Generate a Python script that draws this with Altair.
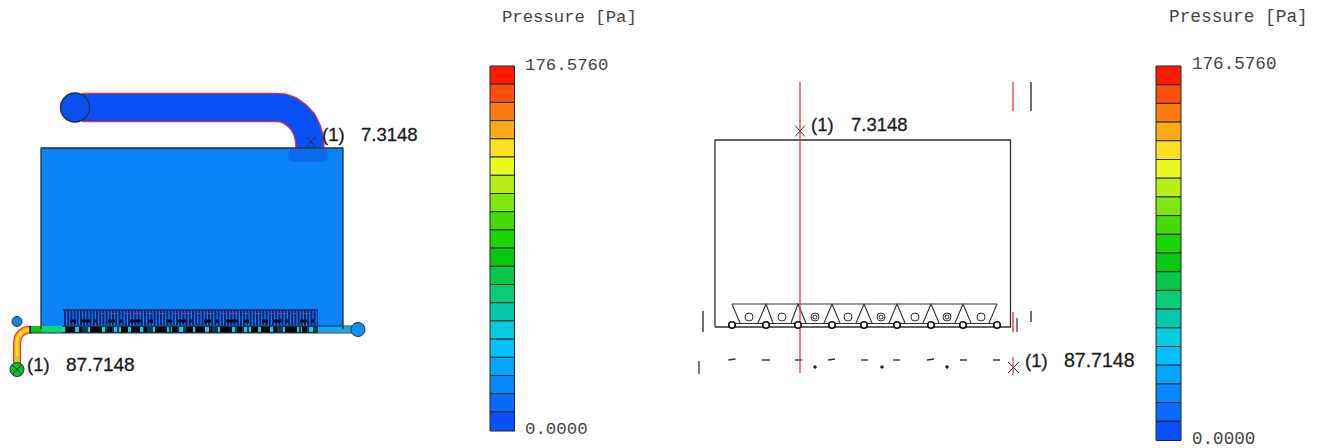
import altair as alt
import pandas as pd

# ---- colour scale of the pressure legend, top to bottom
legend_colors = ["#ff1a00", "#ff4d0a", "#ff7a10", "#ffaa14", "#ffe020", "#e8fa20", "#b8ee18",
                 "#80e610", "#48da08", "#1cd400", "#08c810", "#08c84a", "#08cc78", "#04c8a8",
                 "#08cce0", "#04c0ff", "#04a4ff", "#0888ff", "#0a6cff", "#0a50ff"]
left_bar_edges = [66, 84.2, 102.4, 120.6, 138.8, 157, 175.3, 193.5, 211.7, 229.9, 248.1,
                  266.3, 284.5, 302.7, 320.9, 339.1, 357.3, 375.5, 393.7, 411.9, 431]
right_bar_edges = [66, 84.7, 103.4, 122.1, 140.8, 159.5, 178.2, 196.9, 215.6, 234.3, 253,
                   271.7, 290.4, 309.1, 327.8, 346.5, 365.2, 383.9, 402.6, 421.3, 440.5]

DARK = "#303030"
RED = "#f03040"
BOX_BLUE = "#0a82f8"
DUCT_BLUE = "#0850f5"

# ---- filled rectangles: x, x2, y, y2, colour
rects = [(41, 343, 148, 329, BOX_BLUE)]
for top, bottom, col in zip(left_bar_edges[:-1], left_bar_edges[1:], legend_colors):
    rects.append((490, 514.5, top, bottom, col))
for top, bottom, col in zip(right_bar_edges[:-1], right_bar_edges[1:], legend_colors):
    rects.append((1156, 1181, top, bottom, col))

# ---- geometry of the left view: polyline, colour, width
duct_path = [(82, 107.5), (276, 107.5), (283, 108), (290, 110.5), (297, 115.5), (303, 122),
             (307, 130), (309.5, 139), (310, 148)]
elbow_path = [(17, 365), (17, 343), (18, 337), (21, 333), (25, 330.5), (31, 329.5)]
under = [
    ([(295, 155), (321, 155)], "#0a6cf0", 14, "round"),
]
left_lines = [
    (duct_path, RED, 29.5, "butt"),
    (duct_path, DUCT_BLUE, 27, "butt"),
    (elbow_path, RED, 8, "butt"),
    (elbow_path, "#ff9a20", 6, "butt"),
    (elbow_path, "#ffe020", 3, "butt"),
    ([(17, 365), (17, 356)], "#b0e020", 4, "butt"),
    ([(30, 329.5), (42, 329.5)], "#10c020", 7, "butt"),
    ([(42, 329.5), (62, 329.5)], "#10d870", 7, "butt"),
    ([(62, 329.5), (318, 329.5)], "#063a58", 7, "butt"),
    ([(318, 329.5), (352, 329.5)], "#10a4f5", 6, "butt"),
]
hatch_line = [(64, 318), (318, 318)]
cyan_line = [(62, 329.5), (318, 329.5)]
black_low = [(66, 329.5), (316, 329.5)]
black_mid = [(70, 321), (314, 321)]
red_fleck = [(100, 313.5), (315, 313.5)]
bundle_top = [(63, 310), (318, 310)]

# ---- line work: polyline, colour, width
wire = [
    ([(41, 329), (41, 148), (343, 148), (343, 329)], DARK, 1.3),
    ([(62, 326), (352, 326)], DARK, 1),
    ([(30, 333), (352, 333)], DARK, 1.2),
    ([(30, 326), (30, 333)], "#111111", 1.5),
    (bundle_top, "#10204a", 1.6),
    ([(306, 137), (316, 147)], DARK, 1),
    ([(316, 137), (306, 147)], DARK, 1),
    # right view box
    ([(715, 327), (715, 140), (1010.5, 140), (1010.5, 327), (715, 327)], DARK, 1.3),
    # radiator band
    ([(732, 304), (997, 304)], DARK, 1.2),
    ([(732, 323.5), (997, 323.5)], DARK, 1),
    ([(732, 304), (740, 323)], DARK, 1.1),
    ([(758, 323), (766, 304), (773, 323)], DARK, 1.1),
    ([(791, 323), (798, 304), (806, 323)], DARK, 1.1),
    ([(824, 323), (832, 304), (840, 323)], DARK, 1.1),
    ([(856, 323), (864, 304), (872, 323)], DARK, 1.1),
    ([(889, 323), (897, 304), (905, 323)], DARK, 1.1),
    ([(923, 323), (931, 304), (939, 323)], DARK, 1.1),
    ([(955, 323), (963, 304), (971, 323)], DARK, 1.1),
    ([(989, 323), (997, 304)], DARK, 1.1),
    # stray section lines
    ([(1031, 82), (1031, 111)], DARK, 1.4),
    ([(1017, 318), (1017, 332)], DARK, 1.2),
    ([(1031, 311), (1031, 322)], DARK, 1.4),
    ([(703, 311), (703, 332)], DARK, 1.4),
    ([(699, 361), (699, 374)], DARK, 1.3),
    ([(728.5, 360), (735.5, 359)], DARK, 1.4),
    ([(762, 360), (770, 360)], DARK, 1.4),
    ([(795, 360), (802, 360)], DARK, 1.4),
    ([(828, 360), (835, 359)], DARK, 1.4),
    ([(861, 360), (868, 360)], DARK, 1.4),
    ([(893, 360), (900, 360)], DARK, 1.4),
    ([(927, 360), (934, 359)], DARK, 1.4),
    ([(960, 360), (967, 360)], DARK, 1.4),
    ([(993, 360), (1000, 360)], DARK, 1.4),
    # cross markers
    ([(795, 125.5), (805, 136.5)], DARK, 1),
    ([(805, 125.5), (795, 136.5)], DARK, 1),
    ([(1008, 362), (1019, 373)], DARK, 1),
    ([(1019, 362), (1008, 373)], DARK, 1),
    # red section lines
    ([(800, 82), (800, 373)], RED, 1.3),
    ([(1013, 82), (1013, 111)], RED, 1.3),
    ([(1013, 312), (1013, 332)], RED, 1.4),
    ([(1013, 357), (1013, 375)], RED, 1.2),
]

# ---- circles: x, y, diameter, fill, stroke, stroke width
circles = [
    (75, 107.5, 29, "#0a50f0", "#222a50", 1.3),
    (358, 329.5, 14, "#1090f0", "#222a50", 1),
    (17, 321.5, 10, "#1a80e8", "#222a50", 1),
    (17, 369.5, 14, "#10c020", "#222a50", 1),
    # radiator tubes of the right view
    (749, 317, 8, "white", DARK, 1), (782, 317, 8, "white", DARK, 1),
    (815, 317, 8, "white", DARK, 1), (815, 317, 4, "white", DARK, 1),
    (848, 317, 8, "white", DARK, 1), (881, 317, 8, "white", DARK, 1),
    (881, 317, 4, "white", DARK, 1), (915, 317, 8, "white", DARK, 1),
    (947, 317, 8, "white", DARK, 1), (947, 317, 4, "white", DARK, 1),
    (981, 317, 8, "white", DARK, 1),
    # small ports below the band
    (732, 325, 6.5, "white", "#111111", 1.6), (766, 325, 6.5, "white", "#111111", 1.6),
    (798, 325, 6.5, "white", "#111111", 1.6), (832, 325, 6.5, "white", "#111111", 1.6),
    (864, 325, 6.5, "white", "#111111", 1.6), (897, 325, 6.5, "white", "#111111", 1.6),
    (931, 325, 6.5, "white", "#111111", 1.6), (963, 325, 6.5, "white", "#111111", 1.6),
    (997, 325, 6.5, "white", "#111111", 1.6),
    (815, 367, 2.5, "#222222", "#222222", 1), (882, 367, 2.5, "#222222", "#222222", 1),
    (947, 367, 2.5, "#222222", "#222222", 1),
]
green_cross = [([(12.5, 365), (21.5, 374)], "#14323c", 1), ([(21.5, 365), (12.5, 374)], "#14323c", 1)]

# ---- texts: x, y, string, font, size, colour
labels = [
    (322, 135, "(1)", "Liberation Sans", 18.5, "#1a1a1a"),
    (361, 135, "7.3148", "Liberation Sans", 18.5, "#1a1a1a"),
    (27, 365, "(1)", "Liberation Sans", 18.5, "#1a1a1a"),
    (66, 365, "87.7148", "Liberation Sans", 19, "#1a1a1a"),
    (811, 125, "(1)", "Liberation Sans", 18.5, "#1a1a1a"),
    (851, 125, "7.3148", "Liberation Sans", 18.5, "#1a1a1a"),
    (1025, 361, "(1)", "Liberation Sans", 18.5, "#1a1a1a"),
    (1064, 361, "87.7148", "Liberation Sans", 19.5, "#1a1a1a"),
    (502, 17, "Pressure [Pa]", "Liberation Mono", 17.3, "#444444"),
    (1169, 17, "Pressure [Pa]", "Liberation Mono", 17.8, "#444444"),
    (525, 65, "176.5760", "Liberation Mono", 17.4, "#444444"),
    (525, 429, "0.0000", "Liberation Mono", 17.4, "#444444"),
    (1192, 64, "176.5760", "Liberation Mono", 17.6, "#444444"),
    (1192, 439, "0.0000", "Liberation Mono", 17.6, "#444444"),
]

X = alt.Scale(domain=[8, 1314], range=[0, 1306], nice=False, zero=False)
Y = alt.Scale(domain=[8, 448], range=[0, 440], nice=False, zero=False)


def ex(f):
    return alt.X(f, scale=X, axis=None)


def ey(f):
    return alt.Y(f, scale=Y, axis=None)


def line_layer(items, cap="butt", dash=None):
    rows = []
    for g, item in enumerate(items):
        path, col, w = item[:3]
        for i, (x, y) in enumerate(path):
            rows.append({"x": x, "y": y, "g": g, "i": i, "c": col, "w": w})
    kw = {"strokeDash": dash} if dash else {}
    return alt.Chart(pd.DataFrame(rows)).mark_line(strokeCap=cap, strokeJoin="round", **kw).encode(
        x=ex("x:Q"), y=ey("y:Q"), detail="g:N", order="i:Q",
        color=alt.Color("c:N", scale=None),
        strokeWidth=alt.StrokeWidth("w:Q", scale=None),
    )


def rect_layer(items, stroke=None):
    df = pd.DataFrame(items, columns=["x", "x2", "y", "y2", "c"])
    kw = {"stroke": stroke, "strokeWidth": 1} if stroke else {}
    return alt.Chart(df).mark_rect(**kw).encode(
        x=ex("x:Q"), x2="x2:Q", y=ey("y:Q"), y2="y2:Q",
        color=alt.Color("c:N", scale=None),
    )


def circle_layer(items):
    df = pd.DataFrame(items, columns=["x", "y", "d", "f", "s", "sw"])
    df["a"] = df["d"] ** 2  # symbol area scale: size = diameter squared
    return alt.Chart(df).mark_point(filled=True, opacity=1, shape="circle").encode(
        x=ex("x:Q"), y=ey("y:Q"),
        size=alt.Size("a:Q", scale=None),
        fill=alt.Fill("f:N", scale=None),
        stroke=alt.Stroke("s:N", scale=None),
        strokeWidth=alt.StrokeWidth("sw:Q", scale=None),
    )


def text_layer(items, font, **kw):
    df = pd.DataFrame([t for t in items if t[3] == font],
                      columns=["x", "y", "t", "font", "fs", "c"])
    return alt.Chart(df).mark_text(align="left", baseline="middle", font=font, **kw).encode(
        x=ex("x:Q"), y=ey("y:Q"), text="t:N",
        size=alt.Size("fs:Q", scale=None),
        color=alt.Color("c:N", scale=None),
    )


chart = alt.layer(
    rect_layer(rects[:1]),
    line_layer(under, cap="round"),
    line_layer(left_lines),
    line_layer([(hatch_line, "#082478", 15)], dash=[2, 1.2]),
    line_layer([(black_mid, "#04081c", 3)], dash=[6, 5, 9, 3, 4, 11, 7, 4, 3, 8, 12, 6, 5, 13]),
    line_layer([(red_fleck, "#b03060", 1)], dash=[5, 4, 9, 6]),
    line_layer([(cyan_line, "#20c8d8", 5)], dash=[3, 2, 2, 6, 4, 9]),
    line_layer([(black_low, "#04040c", 6)], dash=[9, 4, 3, 8, 12, 5, 5, 9, 7, 3]),
    rect_layer(rects[1:], stroke="#1e2a24"),
    line_layer(wire),
    circle_layer(circles),
    line_layer(green_cross),
    text_layer(labels, "Liberation Sans", stroke="#1a1a1a", strokeWidth=0.3),
    text_layer(labels, "Liberation Mono"),
).properties(
    width=1306, height=440, background="white", padding=0,
    autosize=alt.AutoSizeParams(type="none"),
).configure_view(stroke=None)

chart.save("out.html", embed_options={"renderer": "svg", "actions": False})
